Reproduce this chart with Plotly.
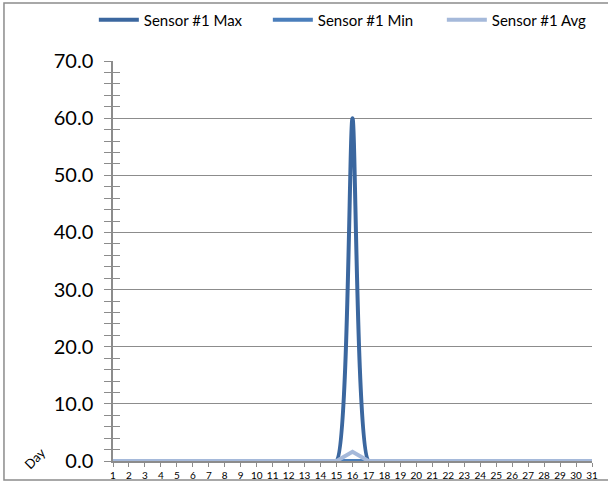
import plotly.graph_objects as go

days = list(range(1, 32))
sensor_max = [0]*15 + [60] + [0]*15
sensor_min = [0]*31
sensor_avg = [0]*15 + [1.6] + [0]*15
y_ticks = [0, 10, 20, 30, 40, 50, 60, 70]

font_family = "Lato, Open Sans, sans-serif"
grid_col = "#8c8c8c"

fig = go.Figure()
fig.add_trace(go.Scatter(x=days, y=sensor_max, name="Sensor #1 Max", mode="lines",
                         line=dict(color="#3b679f", width=4, shape="spline", smoothing=0.55)))
fig.add_trace(go.Scatter(x=days, y=sensor_min, name="Sensor #1 Min", mode="lines",
                         line=dict(color="#4a7ebb", width=4)))
fig.add_trace(go.Scatter(x=days, y=sensor_avg, name="Sensor #1 Avg", mode="lines",
                         line=dict(color="#a5b9da", width=4)))
# invisible trace for the inside-tick overlay axis
fig.add_trace(go.Scatter(x=[1], y=[0], yaxis="y2", mode="lines", showlegend=False,
                         hoverinfo="skip", line=dict(width=0)))

fig.update_layout(
    width=608, height=483,
    margin=dict(l=113, r=16, t=61, b=22, autoexpand=False),
    paper_bgcolor="white", plot_bgcolor="white",
    font=dict(family=font_family, color="#000000"),
    legend=dict(orientation="h", xref="paper", x=-0.04, xanchor="left",
                yref="paper", y=1.1025, yanchor="middle",
                font=dict(size=15, family=font_family), itemwidth=40,
                entrywidth=119, entrywidthmode="pixels",
                bgcolor="rgba(0,0,0,0)"),
    xaxis=dict(range=[1, 31], tickmode="array", tickvals=days,
               ticktext=[str(d) for d in days],
               tickfont=dict(size=10, family=font_family),
               ticks="outside", ticklen=4, tickcolor=grid_col, tickwidth=1,
               showline=True, linecolor=grid_col, linewidth=1.5,
               showgrid=False, zeroline=False, tickangle=0),
    yaxis=dict(range=[0, 70], tickmode="array", tickvals=y_ticks,
               ticktext=[f"{v:.1f}" for v in y_ticks],
               tickfont=dict(size=20, family=font_family),
               ticks="outside", ticklen=7, tickcolor=grid_col, tickwidth=1,
               ticklabelstandoff=7,
               minor=dict(dtick=2, ticks="outside", ticklen=7, tickcolor=grid_col, tickwidth=1),
               showline=True, linecolor=grid_col, linewidth=1.5,
               showgrid=True, gridcolor=grid_col, gridwidth=1.3, zeroline=False),
    yaxis2=dict(overlaying="y", matches="y", side="left", range=[0, 70],
                tickvals=y_ticks, showticklabels=False,
                ticks="inside", ticklen=7, tickcolor=grid_col, tickwidth=1,
                minor=dict(dtick=2, ticks="inside", ticklen=7, tickcolor=grid_col, tickwidth=1),
                showgrid=False, showline=False, zeroline=False),
    showlegend=True,
)

fig.add_annotation(text="Day", xref="paper", yref="paper", x=-0.163, y=0.008,
                   xanchor="center", yanchor="middle",
                   showarrow=False, textangle=-45, font=dict(size=13, family=font_family))

fig.add_shape(type="rect", xref="paper", yref="paper", x0=-0.2276, x1=1.04, y0=-0.0475, y1=1.145,
              line=dict(color="#8c8c8c", width=1.5), fillcolor="rgba(0,0,0,0)", layer="below")

fig.write_html("out.html", config={"displayModeBar": False},
               post_script="document.body.style.margin='0';")
